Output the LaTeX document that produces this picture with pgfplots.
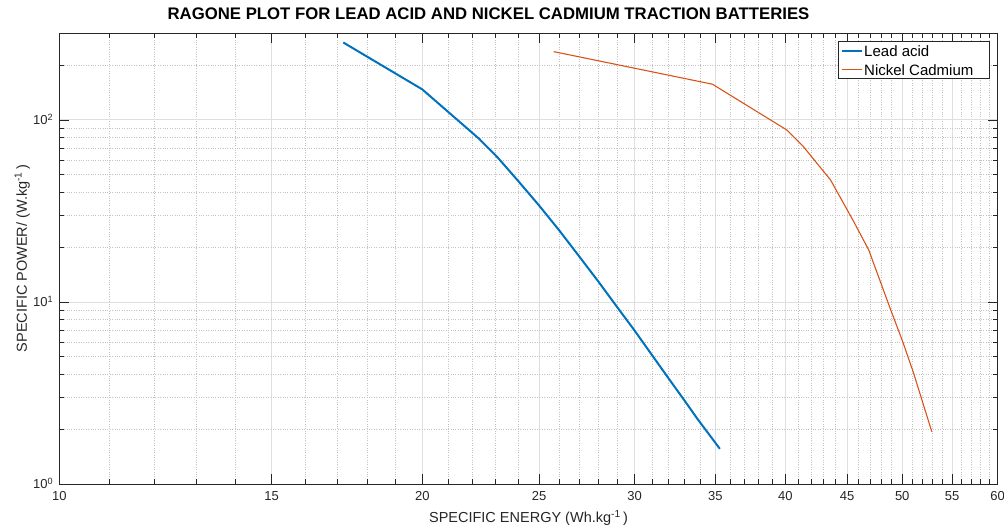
\documentclass[border=0pt]{standalone}
\usepackage{pgfplots}
\pgfplotsset{compat=1.18}
\usepackage{fontspec}
\setmainfont{Liberation Sans}

\definecolor{leadblue}{rgb}{0,0.447,0.741}
\definecolor{nicdorange}{rgb}{0.85,0.325,0.098}
\definecolor{axgray}{rgb}{0.15,0.15,0.15}
\definecolor{gridmaj}{RGB}{223,223,223}
\definecolor{gridmin}{RGB}{195,195,195}

% Ragone data: specific energy (Wh/kg) vs specific power (W/kg)
\pgfplotstableread{
x     y
17.2  266
20.0  147
22.3  78.5
23.1  62.0
24.0  46.4
25.0  33.8
26.0  24.5
27.0  17.7
28.0  12.9
29.0  9.40
30.0  6.95
31.0  5.12
32.0  3.81
33.0  2.87
33.8  2.29
35.3  1.56
}\leadacid

\pgfplotstableread{
x     y
25.7  237
34.8  157
40.1  88.1
41.4  71.3
43.6  46.8
45.5  28.2
46.9  19.3
48.8  9.42
50.1  5.93
51.1  4.06
52.9  1.94
}\nicad

\begin{document}
\begin{tikzpicture}
\useasboundingbox (0,0) rectangle (1004pt,526pt);
\begin{axis}[
  scale only axis,
  width=938.4pt, height=451pt,
  at={(59.3pt,42pt)}, anchor=south west,
  xmode=log, ymode=log,
  xmin=10, xmax=60, ymin=1, ymax=300,
  xtick={10,15,20,25,30,35,40,45,50,55,60},
  xticklabels={10,15,20,25,30,35,40,45,50,55,60},
  minor xtick={11,12,13,14,16,17,18,19,21,22,23,24,26,27,28,29,31,32,33,34,36,37,38,39,41,42,43,44,46,47,48,49,51,52,53,54,56,57,58,59},
  ytick={1,10,100},
  yticklabels={10\textsuperscript{0},10\textsuperscript{1},10\textsuperscript{2}},
  minor ytick={2,3,4,5,6,7,8,9,20,30,40,50,60,70,80,90,200},
  tick align=inside,
  major tick length=10pt, minor tick length=5pt,
  every tick/.style={axgray, line width=0.6pt},
  axis line style={axgray, line width=0.8pt},
  xmajorgrids, xminorgrids, ymajorgrids, yminorgrids,
  major grid style={gridmaj, line width=0.8pt},
  minor grid style={gridmin, dotted, line width=0.6pt},
  tick label style={text=axgray, font=\fontsize{13}{15}\selectfont, inner sep=0pt},
  xticklabel style={anchor=base, yshift=-16.7pt},
  yticklabel style={anchor=base east, xshift=-6pt, yshift=-5pt},
  title={RAGONE PLOT FOR LEAD ACID AND NICKEL CADMIUM TRACTION BATTERIES},
  title style={at={(0.5,1)}, anchor=base, xshift=-40pt, yshift=7.7pt, inner sep=0pt,
               font=\bfseries\fontsize{16.75}{19}\selectfont},
  xlabel={SPECIFIC ENERGY (Wh.kg\textsuperscript{-1}\,)},
  ylabel={SPECIFIC POWER/ (W.kg\textsuperscript{-1}\,)},
  label style={text=axgray, font=\fontsize{14.5}{17}\selectfont, inner sep=0pt},
  xlabel style={at={(axis description cs:0.5,0)}, anchor=base, yshift=-39pt},
  ylabel style={at={(axis description cs:-0.0347,0.5)}, anchor=base},
  legend style={at={(1,1)}, anchor=north east, xshift=-8pt, yshift=-8pt,
                draw=axgray, line width=0.6pt, fill=white,
                font=\fontsize{15}{18}\selectfont,
                inner xsep=3.4pt, inner ysep=1pt, row sep=2.3pt,
                column sep=1pt, nodes={inner sep=0pt}},
  legend cell align=left,
  legend image code/.code={\draw[#1] (0pt,-0.5pt) -- (20pt,-0.5pt);},
]
\addplot[leadblue, line width=2pt, line join=round] table[x=x, y=y] {\leadacid};
\addlegendentry{\rule[-1.3pt]{0pt}{16pt}Lead acid}
\addplot[nicdorange, line width=1.1pt, line join=round] table[x=x, y=y] {\nicad};
\addlegendentry{\rule[-1.3pt]{0pt}{16pt}Nickel Cadmium\kern12.6pt}
\end{axis}
\end{tikzpicture}
\end{document}
